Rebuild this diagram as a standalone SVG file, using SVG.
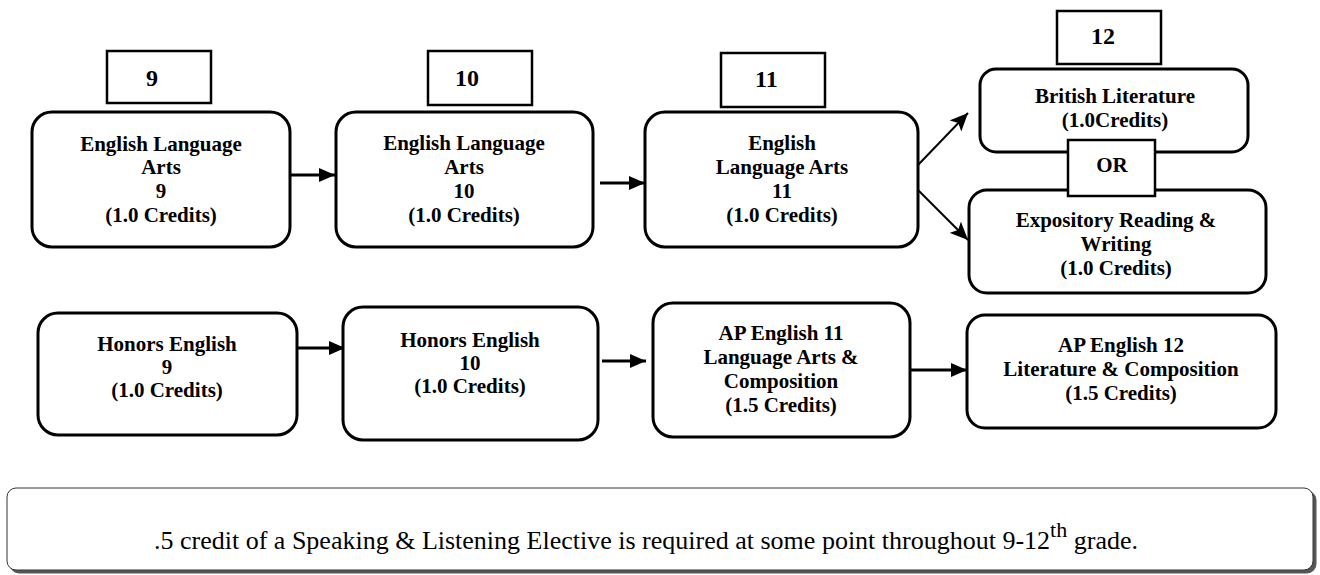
<svg xmlns="http://www.w3.org/2000/svg" width="1320" height="575" viewBox="0 0 1320 575">
<defs>
<style>
.node{fill:#fff;stroke:#000;stroke-width:3}
.lbl{fill:#fff;stroke:#000;stroke-width:2.5}
.t{font-weight:bold;font-size:21px;fill:#000;text-anchor:middle}
.g{font-weight:bold;font-size:24px;fill:#000}
.c{stroke:#000;fill:none}
.h{stroke-width:3}
.d{stroke-width:2}
.note{font-size:26px;fill:#000;text-anchor:middle}
</style>
<marker id="ah" viewBox="0 0 16 14" refX="16" refY="7" markerWidth="16" markerHeight="14" markerUnits="userSpaceOnUse" orient="auto">
<path d="M0,0 L16,7 L0,14 Z" fill="#000"/>
</marker>
<marker id="ad" viewBox="0 0 18 16" refX="18" refY="8" markerWidth="18" markerHeight="16" markerUnits="userSpaceOnUse" orient="auto">
<path d="M0,0 L18,8 L0,16 L4,8 Z" fill="#000"/>
</marker>
<filter id="sh" x="-5%" y="-10%" width="110%" height="130%">
<feDropShadow dx="3" dy="3" stdDeviation="0.6" flood-color="#555" flood-opacity="1"/>
</filter>
</defs>

<g id="connectors">
<line class="c h" x1="290" y1="175" x2="335" y2="175" marker-end="url(#ah)"/>
<line class="c h" x1="600" y1="183" x2="645" y2="183" marker-end="url(#ah)"/>
<line class="c d" x1="918" y1="165" x2="968" y2="113" marker-end="url(#ad)"/>
<line class="c d" x1="918" y1="190" x2="968" y2="240" marker-end="url(#ad)"/>
<line class="c h" x1="297" y1="348" x2="345" y2="348" marker-end="url(#ah)"/>
<line class="c h" x1="602" y1="361" x2="646" y2="361" marker-end="url(#ah)"/>
<line class="c h" x1="910" y1="370" x2="967" y2="370" marker-end="url(#ah)"/>
</g>

<g font-family="Liberation Serif, Times New Roman, DejaVu Serif, serif">
<g id="grade9">
<rect class="lbl" x="107" y="51" width="104" height="52"/>
<text class="g" x="146" y="86">9</text>
</g>
<g id="grade10">
<rect class="lbl" x="428" y="51" width="104" height="54"/>
<text class="g" x="455" y="86">10</text>
</g>
<g id="grade11">
<rect class="lbl" x="721" y="53" width="104" height="54"/>
<text class="g" x="755" y="87">11</text>
</g>
<g id="grade12">
<rect class="lbl" x="1057" y="11" width="104" height="53"/>
<text class="g" x="1091" y="44">12</text>
</g>

<g id="ela9">
<rect class="node" x="32" y="112" width="258" height="135" rx="20"/>
<text class="t" x="161" y="151">English Language</text>
<text class="t" x="161" y="174">Arts</text>
<text class="t" x="161" y="198">9</text>
<text class="t" x="161" y="222">(1.0 Credits)</text>
</g>
<g id="ela10">
<rect class="node" x="336" y="112" width="257" height="135" rx="20"/>
<text class="t" x="464" y="150">English Language</text>
<text class="t" x="464" y="174">Arts</text>
<text class="t" x="464" y="198">10</text>
<text class="t" x="464" y="222">(1.0 Credits)</text>
</g>
<g id="ela11">
<rect class="node" x="645" y="112" width="273" height="135" rx="20"/>
<text class="t" x="782" y="150">English</text>
<text class="t" x="782" y="174">Language Arts</text>
<text class="t" x="782" y="198">11</text>
<text class="t" x="782" y="222">(1.0 Credits)</text>
</g>
<g id="britlit">
<rect class="node" x="980" y="69" width="268" height="83" rx="16"/>
<text class="t" x="1115" y="103">British Literature</text>
<text class="t" x="1115" y="127">(1.0Credits)</text>
</g>
<g id="expository">
<rect class="node" x="969" y="190" width="297" height="103" rx="18"/>
<text class="t" x="1116" y="227">Expository Reading &amp;</text>
<text class="t" x="1116" y="251">Writing</text>
<text class="t" x="1116" y="275">(1.0 Credits)</text>
</g>
<g id="or">
<rect class="lbl" x="1068" y="140" width="87" height="56"/>
<text class="t" x="1112" y="172">OR</text>
</g>

<g id="honors9">
<rect class="node" x="38" y="313" width="259" height="122" rx="20"/>
<text class="t" x="167" y="351">Honors English</text>
<text class="t" x="167" y="374">9</text>
<text class="t" x="167" y="397">(1.0 Credits)</text>
</g>
<g id="honors10">
<rect class="node" x="343" y="307" width="255" height="133" rx="20"/>
<text class="t" x="470" y="347">Honors English</text>
<text class="t" x="470" y="370">10</text>
<text class="t" x="470" y="393">(1.0 Credits)</text>
</g>
<g id="ap11">
<rect class="node" x="653" y="303" width="257" height="134" rx="20"/>
<text class="t" x="781" y="340">AP English 11</text>
<text class="t" x="781" y="364">Language Arts &amp;</text>
<text class="t" x="781" y="388">Composition</text>
<text class="t" x="781" y="412">(1.5 Credits)</text>
</g>
<g id="ap12">
<rect class="node" x="967" y="315" width="309" height="113" rx="18"/>
<text class="t" x="1121" y="352">AP English 12</text>
<text class="t" x="1121" y="376">Literature &amp; Composition</text>
<text class="t" x="1121" y="400">(1.5 Credits)</text>
</g>

<g id="note">
<rect x="7" y="488" width="1306" height="82" rx="9" fill="#fff" stroke="#333" stroke-width="1" filter="url(#sh)"/>
<text class="note" x="646" y="549">.5 credit of a Speaking &amp; Listening Elective is required at some point throughout 9-12<tspan font-size="22" dy="-12">th</tspan><tspan dy="12"> grade.</tspan></text>
</g>
</g>
</svg>
